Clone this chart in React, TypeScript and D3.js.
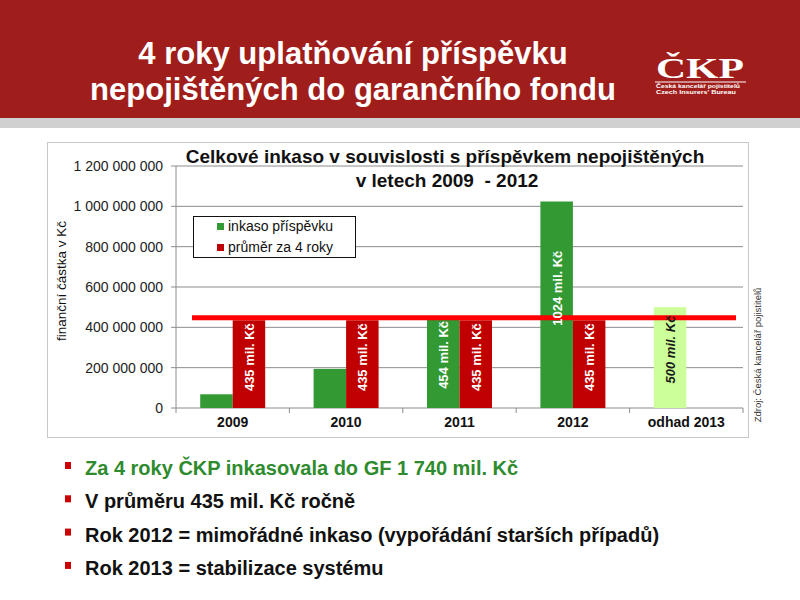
import React from 'react';
import * as d3 from 'd3';

// chart data
const categories = ['2009', '2010', '2011', '2012', 'odhad 2013'];
const inkaso = [68, 194, 454, 1024, 500]; // mil. Kč
const prumer = [435, 435, 435, 435, null]; // mil. Kč
const inkasoLabels = ['', '', '454 mil. Kč', '1024 mil. Kč', '500 mil. Kč'];
const prumerLabels = ['435 mil. Kč', '435 mil. Kč', '435 mil. Kč', '435 mil. Kč', ''];
const yTicks = [0, 200000000, 400000000, 600000000, 800000000, 1000000000, 1200000000];
const averageValue = 435;
const legendItems = ['inkaso příspěvku', 'průměr za 4 roky'];

const bullets = [
  'Za 4 roky ČKP inkasovala do GF 1 740 mil. Kč',
  'V průměru 435 mil. Kč ročně',
  'Rok 2012 = mimořádné inkaso (vypořádání starších případů)',
  'Rok 2013 = stabilizace systému',
];

const GREEN = '#339933';
const LIGHT_GREEN = '#ccff99';
const RED = '#c00000';
const FONT = 'Arial, "Liberation Sans", sans-serif';

export default function App() {
  const plot = { left: 176, right: 743, top: 166, bottom: 408 };

  const x = d3.scaleBand<string>()
    .domain(categories)
    .range([plot.left, plot.right]);
  const groupWidth = x.bandwidth() * 0.573;
  const x1 = d3.scaleBand<string>()
    .domain(['inkaso', 'prumer'])
    .range([0, groupWidth]);

  const y = d3.scaleLinear().domain([0, 1200000000]).range([plot.bottom, plot.top]);

  const fmt = (v: number) => d3.format(',')(v).replace(/,/g, ' ');
  const barX = (cat: string, key: string) =>
    (x(cat) as number) + (x.bandwidth() - groupWidth) / 2 + (x1(key) as number);

  return (
    <div style={{ position: 'absolute', left: 0, top: 0 }}>
      <svg width={800} height={600} style={{ display: 'block', fontFamily: FONT }}>
        <rect x={0} y={0} width={800} height={600} fill="#fff" />

        {/* header */}
        <rect x={0} y={0} width={800} height={118} fill="#9f1d1a" />
        <rect x={0} y={118} width={800} height={10} fill="#d0d0d0" />
        <g transform="translate(353,0) scale(0.97,1)">
          <text x={0} y={64} textAnchor="middle" fill="#fff" fontSize={32} fontWeight="bold">
            4 roky uplatňování příspěvku
          </text>
          <text x={0} y={100} textAnchor="middle" fill="#fff" fontSize={32} fontWeight="bold">
            nepojištěných do garančního fondu
          </text>
        </g>

        {/* logo */}
        <text x={656} y={78} fill="#fff" fontSize={30} fontWeight="bold" textLength={88}
          lengthAdjust="spacingAndGlyphs"
          fontFamily='"Liberation Serif", "DejaVu Serif", serif'>ČKP</text>
        <line x1={655} x2={746} y1={82} y2={82} stroke="#fff" strokeWidth={1} />
        <text x={656} y={88} fill="#fff" fontSize={4.6} fontWeight="bold" textLength={84}
          lengthAdjust="spacingAndGlyphs">Česká kancelář pojistitelů</text>
        <text x={656} y={94} fill="#fff" fontSize={4.6} fontWeight="bold" textLength={80}
          lengthAdjust="spacingAndGlyphs">Czech Insurers' Bureau</text>

        {/* chart frame */}
        <rect x={47.5} y={142.5} width={701} height={295} fill="#fff" stroke="#c8c8c8" strokeWidth={1} />

        {/* gridlines */}
        {yTicks.slice(1).map(t => (
          <line key={t} x1={plot.left} x2={plot.right} y1={y(t)} y2={y(t)} stroke="#8c8c8c" strokeWidth={1} />
        ))}

        {/* axes */}
        <line x1={plot.left} x2={plot.left} y1={plot.top} y2={plot.bottom} stroke="#8c8c8c" />
        <line x1={plot.left} x2={plot.right} y1={plot.bottom} y2={plot.bottom} stroke="#8c8c8c" />
        {yTicks.map(t => (
          <g key={t}>
            <line x1={plot.left - 5} x2={plot.left} y1={y(t)} y2={y(t)} stroke="#8c8c8c" />
            <text x={plot.left - 13} y={y(t) + 5} textAnchor="end" fontSize={14} fill="#222">{fmt(t)}</text>
          </g>
        ))}
        {categories.map(c => (
          <g key={c}>
            <line x1={(x(c) as number) + x.bandwidth()} x2={(x(c) as number) + x.bandwidth()}
              y1={plot.bottom} y2={plot.bottom + 5} stroke="#8c8c8c" />
            <text x={(x(c) as number) + x.bandwidth() / 2} y={427} textAnchor="middle"
              fontSize={14} fontWeight="bold" fill="#111">{c}</text>
          </g>
        ))}
        <line x1={plot.left} x2={plot.left} y1={plot.bottom} y2={plot.bottom + 5} stroke="#8c8c8c" />

        {/* y axis title */}
        <text transform="translate(66,281) rotate(-90)" textAnchor="middle" fontSize={13.5} fill="#111">
          finanční částka v Kč
        </text>

        {/* bars */}
        {categories.map((c, i) => (
          <g key={c}>
            <rect x={barX(c, 'inkaso')} width={x1.bandwidth()}
              y={y(inkaso[i] * 1e6)} height={plot.bottom - y(inkaso[i] * 1e6)}
              fill={i === categories.length - 1 ? LIGHT_GREEN : GREEN} />
            {prumer[i] != null && (
              <rect x={barX(c, 'prumer')} width={x1.bandwidth()}
                y={y((prumer[i] as number) * 1e6)} height={plot.bottom - y((prumer[i] as number) * 1e6)}
                fill={RED} />
            )}
          </g>
        ))}

        {/* average line */}
        <line x1={x(categories[0]) as number + 16} x2={plot.right - 7}
          y1={y(averageValue * 1e6) - 2.5} y2={y(averageValue * 1e6) - 2.5}
          stroke="#ff0000" strokeWidth={5} />

        {/* bar labels */}
        {categories.map((c, i) => {
          const last = i === categories.length - 1;
          return (
            <g key={c}>
              {inkasoLabels[i] && (
                <text transform={`translate(${barX(c, 'inkaso') + x1.bandwidth() / 2 + 5},${y(inkaso[i] * 1e6 * 0.58)}) rotate(-90)`}
                  textAnchor="middle" fontSize={13} fontWeight="bold"
                  fontStyle={last ? 'italic' : 'normal'}
                  fill={last ? '#1a1a1a' : '#fff'}>{inkasoLabels[i]}</text>
              )}
              {prumerLabels[i] && (
                <text transform={`translate(${barX(c, 'prumer') + x1.bandwidth() / 2 + 5},${y((prumer[i] as number) * 1e6 * 0.58)}) rotate(-90)`}
                  textAnchor="middle" fontSize={13} fontWeight="bold" fill="#fff">{prumerLabels[i]}</text>
              )}
            </g>
          );
        })}

        {/* chart title */}
        <text x={445} y={163} textAnchor="middle" fontSize={19} fontWeight="bold" fill="#111">
          Celkové inkaso v souvislosti s příspěvkem nepojištěných
        </text>
        <text x={447} y={187} textAnchor="middle" fontSize={19} fontWeight="bold" fill="#111"
          style={{ whiteSpace: 'pre' }}>
          {'v letech 2009  - 2012'}
        </text>

        {/* legend */}
        <rect x={193.5} y={216.5} width={162} height={41} fill="#fff" stroke="#111" strokeWidth={1} />
        {legendItems.map((l, i) => (
          <g key={l}>
            <rect x={217} y={223 + i * 21} width={7} height={7} fill={i === 0 ? GREEN : RED} />
            <text x={228} y={231 + i * 21} fontSize={14} fill="#111">{l}</text>
          </g>
        ))}

        {/* source */}
        <text transform="translate(761,355) rotate(-90)" textAnchor="middle" fontSize={9.5} fill="#333">
          Zdroj: Česká kancelář pojistitelů
        </text>

        {/* bullets */}
        {bullets.map((b, i) => (
          <g key={b}>
            <rect x={65} y={462 + i * 33.3} width={6} height={7} fill="#cc0000" />
            <text x={85} y={475 + i * 33.3} fontSize={20} fontWeight="bold"
              fill={i === 0 ? '#2e8b2e' : '#111'}>{b}</text>
          </g>
        ))}
      </svg>
    </div>
  );
}
